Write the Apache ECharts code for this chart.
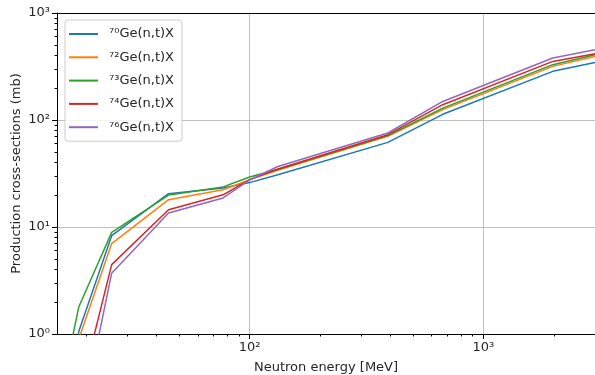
<!DOCTYPE html>
<html>
<head>
<meta charset="utf-8">
<script src="https://cdn.jsdelivr.net/npm/echarts@6/dist/echarts.min.js"></script>
<style>
  html, body { margin: 0; padding: 0; background: #fff; }
  #chart { width: 595px; height: 375px; }
</style>
</head>
<body>
<div id="chart"></div>
<script>
// Neutron energies (MeV) and (n,t) production cross-sections (mb)
const energies = [15, 18.6, 25.7, 45, 77, 100, 132, 390, 670, 1980, 3000];
const ge70 = [0.1, 1.06, 8.3, 20.5, 23.1, 26.0, 30.8, 61.8, 113, 285, 345];
const ge72 = [0.1, 0.9, 7.0, 18.0, 22.3, 27.7, 33.9, 70.3, 125, 317, 393];
const ge73 = [0.19, 1.8, 8.9, 19.9, 23.7, 29.3, 34.5, 71.5, 129, 329, 408];
const ge74 = [0.05, 0.26, 4.45, 14.5, 20.0, 27.7, 34.8, 72.9, 139, 353, 417];
const ge76 = [0.03, 0.12, 3.7, 13.5, 18.7, 27.5, 36.8, 75.6, 149, 380, 454];
const seriesNames = ['⁷⁰Ge(n,t)X', '⁷²Ge(n,t)X', '⁷³Ge(n,t)X', '⁷⁴Ge(n,t)X', '⁷⁶Ge(n,t)X'];
const seriesValues = [ge70, ge72, ge73, ge74, ge76];
const colors = ['#1f77b4', '#ff7f0e', '#2ca02c', '#d62728', '#9467bd'];

// Axis ranges and decade ticks
const xRange = [15, 3000];
const yRange = [1, 1000];
const xMajor = [100, 1000];
const yMajor = [1, 10, 100, 1000];

const FONT = 'DejaVu Sans';
const SUP = { '0': '⁰', '1': '¹', '2': '²', '3': '³', '4': '⁴', '5': '⁵', '6': '⁶', '7': '⁷', '8': '⁸', '9': '⁹', '-': '⁻' };
const lg = v => Math.log10(v);
const powLabel = e => '10' + String(Math.round(e)).split('').map(c => SUP[c]).join('');

// minor ticks at 2..9 x 10^k inside a range
function minorTicks(lo, hi) {
  const out = [];
  for (let k = Math.floor(lg(lo)); k <= Math.ceil(lg(hi)); k++) {
    for (let m = 2; m <= 9; m++) {
      const v = m * Math.pow(10, k);
      if (v >= lo && v <= hi) out.push(lg(v));
    }
  }
  return out;
}

const axisColor = '#000';
const gridColor = '#b0b0b0';
const textColor = '#262626';

const chart = echarts.init(document.getElementById('chart'), null, { renderer: 'canvas' });

const option = {
  animation: false,
  backgroundColor: '#fff',
  textStyle: { fontFamily: FONT },
  grid: { left: 57, right: 0, top: 13, bottom: 41, containLabel: false, outerBoundsMode: 'none' },
  legend: {
    orient: 'vertical',
    left: 65,
    top: 20,
    itemWidth: 29,
    itemHeight: 14,
    itemGap: 9.3,
    padding: [7, 8, 7, 3],
    borderColor: '#cccccc',
    borderWidth: 1,
    borderRadius: 3,
    backgroundColor: 'rgba(255,255,255,0.8)',
    itemStyle: { opacity: 0 },
    textStyle: { fontFamily: FONT, fontSize: 13, color: textColor, padding: [0, 0, 0, 6], lineHeight: 14 },
    data: seriesNames
  },
  xAxis: [
    { // data axis (log scale)
      type: 'log', logBase: 10, min: xRange[0], max: xRange[1], gridIndex: 0,
      show: false
    },
    { // decade ticks, labels, grid lines
      type: 'value', min: lg(xRange[0]), max: lg(xRange[1]), position: 'bottom',
      name: 'Neutron energy [MeV]', nameLocation: 'middle', nameGap: 27,
      nameTextStyle: { fontFamily: FONT, fontSize: 13, color: textColor },
      axisLine: { show: true, onZero: false, lineStyle: { color: axisColor, width: 1 } },
      axisTick: { show: true, length: 5, lineStyle: { color: axisColor }, customValues: xMajor.map(lg) },
      axisLabel: { customValues: xMajor.map(lg), formatter: v => powLabel(v), margin: 7,
                   fontFamily: FONT, fontSize: 13, color: textColor },
      splitLine: { show: true, lineStyle: { color: gridColor, width: 0.8 } }
    },
    { // minor ticks
      type: 'value', min: lg(xRange[0]), max: lg(xRange[1]), position: 'bottom',
      axisLine: { show: false, onZero: false },
      axisTick: { show: true, length: 2.5, lineStyle: { color: axisColor }, customValues: minorTicks(xRange[0], xRange[1]) },
      axisLabel: { show: false },
      splitLine: { show: false }
    },
    { // top spine
      type: 'value', min: 0, max: 1, position: 'top',
      axisLine: { show: true, onZero: false, lineStyle: { color: axisColor, width: 1 } },
      axisTick: { show: false }, axisLabel: { show: false }, splitLine: { show: false }
    }
  ],
  yAxis: [
    { // data axis (log scale)
      type: 'log', logBase: 10, min: yRange[0], max: yRange[1], show: false
    },
    { // decade ticks, labels, grid lines
      type: 'value', min: lg(yRange[0]), max: lg(yRange[1]), interval: 1, position: 'left',
      name: 'Production cross-sections (mb)', nameLocation: 'middle', nameGap: 34,
      nameMoveOverlap: false,
      nameTextStyle: { fontFamily: FONT, fontSize: 13, color: textColor },
      axisLine: { show: true, onZero: false, lineStyle: { color: axisColor, width: 1 } },
      axisTick: { show: true, length: 5, lineStyle: { color: axisColor } },
      axisLabel: { formatter: v => powLabel(v), margin: 7, fontFamily: FONT, fontSize: 13, color: textColor },
      splitLine: { show: true, lineStyle: { color: gridColor, width: 0.8 } }
    },
    { // minor ticks
      type: 'value', min: lg(yRange[0]), max: lg(yRange[1]), position: 'left',
      axisLine: { show: false, onZero: false },
      axisTick: { show: true, length: 2.5, lineStyle: { color: axisColor }, customValues: minorTicks(yRange[0], yRange[1]) },
      axisLabel: { show: false },
      splitLine: { show: false }
    }
  ],
  series: seriesNames.map((name, i) => ({
    name: name,
    type: 'line',
    xAxisIndex: 0,
    yAxisIndex: 0,
    symbol: 'none',
    clip: true,
    z: 3 + i,
    lineStyle: { color: colors[i], width: 1.5 },
    itemStyle: { color: colors[i] },
    data: energies.map((e, j) => [e, seriesValues[i][j]])
  }))
};

chart.setOption(option);
</script>
</body>
</html>
